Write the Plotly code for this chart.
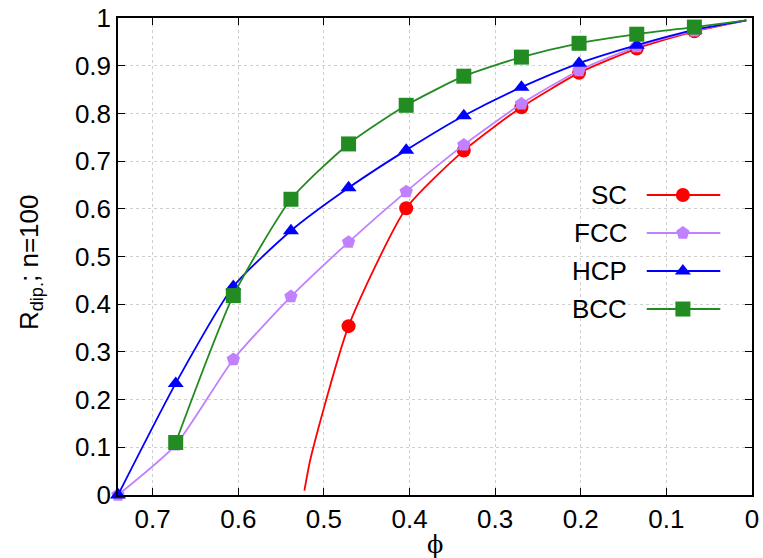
import plotly.graph_objects as go

# packing fraction at the marked points
phi = [0.7405, 0.6731, 0.6058, 0.5385, 0.4712, 0.4039, 0.3366, 0.2693, 0.2020, 0.1346, 0.0673]
phi_end = 0.0067
r_end = 0.995

# R_dip at the marked points
sc = [None, None, None, None, 0.354, 0.601, 0.722, 0.813, 0.885, 0.936, 0.972]
fcc = [0.0, 0.105, 0.284, 0.416, 0.530, 0.636, 0.734, 0.820, 0.890, 0.940, 0.973]
hcp = [0.0, 0.234, 0.437, 0.554, 0.644, 0.723, 0.795, 0.855, 0.905, 0.943, 0.975]
bcc = [None, 0.110, 0.418, 0.620, 0.736, 0.817, 0.878, 0.918, 0.947, 0.966, 0.981]

# SC curve starts at its close-packing limit
sc_start_phi = [0.5228, 0.5155]
sc_start_r = [0.009, 0.077]

names = ["SC", "FCC", "HCP", "BCC"]
colors = ["#ff0000", "#c080ff", "#0000ff", "#228b22"]
symbols = ["circle", "pentagon", "triangle-up", "square"]
sizes = [14, 14, 14, 15]
series = [sc, fcc, hcp, bcc]

FONT = "Liberation Sans, Arial, sans-serif"
FSIZE = 26

fig = go.Figure()

for i, (name, ys) in enumerate(zip(names, series)):
    xs = [p for p, v in zip(phi, ys) if v is not None]
    vs = [v for v in ys if v is not None]
    lx = list(xs) + [phi_end]
    ly = list(vs) + [r_end]
    if name == "SC":
        lx = sc_start_phi + lx
        ly = sc_start_r + ly
    fig.add_trace(go.Scatter(
        x=lx, y=ly, mode="lines",
        line=dict(color=colors[i], width=1.8, shape="spline", smoothing=0.6),
        showlegend=False, hoverinfo="skip", cliponaxis=True))
    fig.add_trace(go.Scatter(
        x=xs, y=vs, mode="markers", name=name,
        marker=dict(color=colors[i], symbol=symbols[i], size=sizes[i],
                    line=dict(width=0)),
        showlegend=False, cliponaxis=False))

# key: label on the left, line sample with marker on the right
key_y = [0.6289, 0.5493, 0.4696, 0.3899]
key_x0, key_x1, key_xm, key_tx = 0.834, 0.950, 0.891, 0.8065
for i, name in enumerate(names):
    fig.add_trace(go.Scatter(
        x=[key_x0, key_xm, key_x1], y=[key_y[i]] * 3, xaxis="x2", yaxis="y2",
        mode="lines", line=dict(color=colors[i], width=1.8),
        showlegend=False, hoverinfo="skip"))
    fig.add_trace(go.Scatter(
        x=[key_xm], y=[key_y[i]], xaxis="x2", yaxis="y2", mode="markers",
        marker=dict(color=colors[i], symbol=symbols[i], size=sizes[i], line=dict(width=0)),
        showlegend=False, hoverinfo="skip"))
    fig.add_annotation(x=key_tx, y=key_y[i], xref="paper", yref="paper",
                       text=name, showarrow=False, xanchor="right", yanchor="middle",
                       font=dict(family=FONT, size=FSIZE, color="black"))

axis_common = dict(
    showline=True, linecolor="black", linewidth=1.5, mirror="ticks",
    ticks="inside", ticklen=7, tickwidth=1.2, tickcolor="black",
    showgrid=True, gridcolor="#cfcfcf", griddash="dot", gridwidth=1,
    zeroline=False, automargin=False,
    tickfont=dict(family=FONT, size=FSIZE, color="black"),
)

fig.update_layout(
    width=763, height=558,
    margin=dict(l=118, r=11, t=18, b=63),
    paper_bgcolor="white", plot_bgcolor="white",
    xaxis=dict(range=[0.7405, 0], autorange=False,
               tickvals=[0.7, 0.6, 0.5, 0.4, 0.3, 0.2, 0.1, 0.0],
               ticktext=["0.7", "0.6", "0.5", "0.4", "0.3", "0.2", "0.1", "0"],
               **axis_common),
    yaxis=dict(range=[0, 1], autorange=False,
               tickvals=[0, 0.1, 0.2, 0.3, 0.4, 0.5, 0.6, 0.7, 0.8, 0.9, 1.0],
               ticktext=["0", "0.1", "0.2", "0.3", "0.4", "0.5", "0.6", "0.7", "0.8", "0.9", "1"],
               **axis_common),
    xaxis2=dict(overlaying="x", range=[0, 1], visible=False, fixedrange=True),
    yaxis2=dict(overlaying="y", range=[0, 1], visible=False, fixedrange=True),
    showlegend=False,
)

# axis titles
fig.add_annotation(x=0.5, y=-0.105, xref="paper", yref="paper", text="ϕ",
                   showarrow=False, xanchor="center", yanchor="middle",
                   font=dict(family="DejaVu Serif, serif", size=24, color="black"))
fig.add_annotation(x=-0.139, y=0.488, xref="paper", yref="paper",
                   text="R<sub>dip.</sub>; n=100", textangle=-90,
                   showarrow=False, xanchor="center", yanchor="middle",
                   font=dict(family=FONT, size=FSIZE, color="black"))

fig.write_html("out.html")
